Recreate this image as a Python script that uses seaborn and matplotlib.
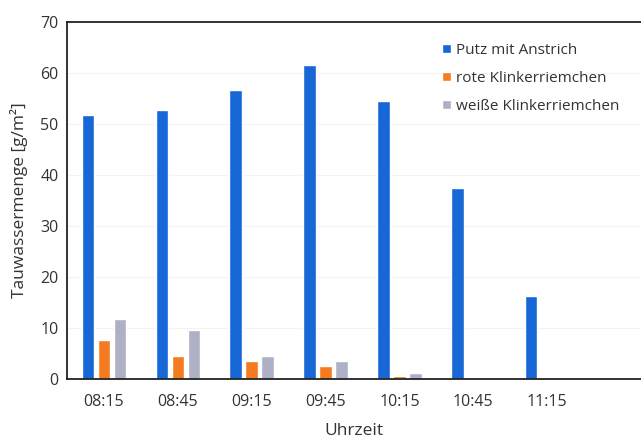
import matplotlib
matplotlib.use("Agg")
import matplotlib.pyplot as plt
import seaborn as sns
import pandas as pd

times = ["08:15", "08:45", "09:15", "09:45", "10:15", "10:45", "11:15"]
putz = [51.7, 52.7, 56.6, 61.5, 54.5, 37.4, 16.2]
rote = [7.7, 4.6, 3.6, 2.5, 0.6, 0.0, 0.0]
weisse = [11.8, 9.6, 4.6, 3.6, 1.2, 0.2, 0.2]
series = ["Putz mit Anstrich", "rote Klinkerriemchen", "weiße Klinkerriemchen"]
colors = ["#1767d6", "#f47b20", "#aeb0c6"]

df = pd.DataFrame({
    "Uhrzeit": times * 3,
    "Wert": putz + rote + weisse,
    "Serie": [series[0]] * 7 + [series[1]] * 7 + [series[2]] * 7,
})

sns.set_theme(style="white")
plt.rcParams["font.family"] = ["Open Sans", "DejaVu Sans"]

fig = plt.figure(figsize=(6.41, 4.43), dpi=100)
ax = fig.add_axes([67 / 641, (443 - 379) / 443, (641 - 67) / 641, (379 - 22) / 443])

sns.barplot(data=df, x="Uhrzeit", y="Wert", hue="Serie", palette=colors,
            width=0.65, gap=0.22, ax=ax, errorbar=None, saturation=1)

ax.set_ylim(0, 70)
ax.set_xlim(-0.5, 7.27)
ax.set_yticks(range(0, 71, 10))
ax.tick_params(axis="both", length=0, labelsize=11.5, colors="#333333")
ax.tick_params(axis="x", pad=11)
ax.tick_params(axis="y", pad=6)
ax.set_xlabel("Uhrzeit", fontsize=12.5, color="#333333", labelpad=9)
ax.set_ylabel("Tauwassermenge [g/m²]", fontsize=12.5, color="#333333", labelpad=9)
ax.yaxis.grid(True, color="#f3f3f3", linewidth=0.8)
ax.set_axisbelow(True)

for s in ["left", "top", "bottom"]:
    ax.spines[s].set_color("#222222")
    ax.spines[s].set_linewidth(1.3)
ax.spines["right"].set_visible(False)

leg = ax.legend(loc="upper left", bbox_to_anchor=(0.63, 0.98), frameon=False,
                fontsize=11, handlelength=0.55, handleheight=0.55,
                handletextpad=0.35, labelspacing=0.85)
for t in leg.get_texts():
    t.set_color("#333333")

fig.savefig("out.png", dpi=100)
